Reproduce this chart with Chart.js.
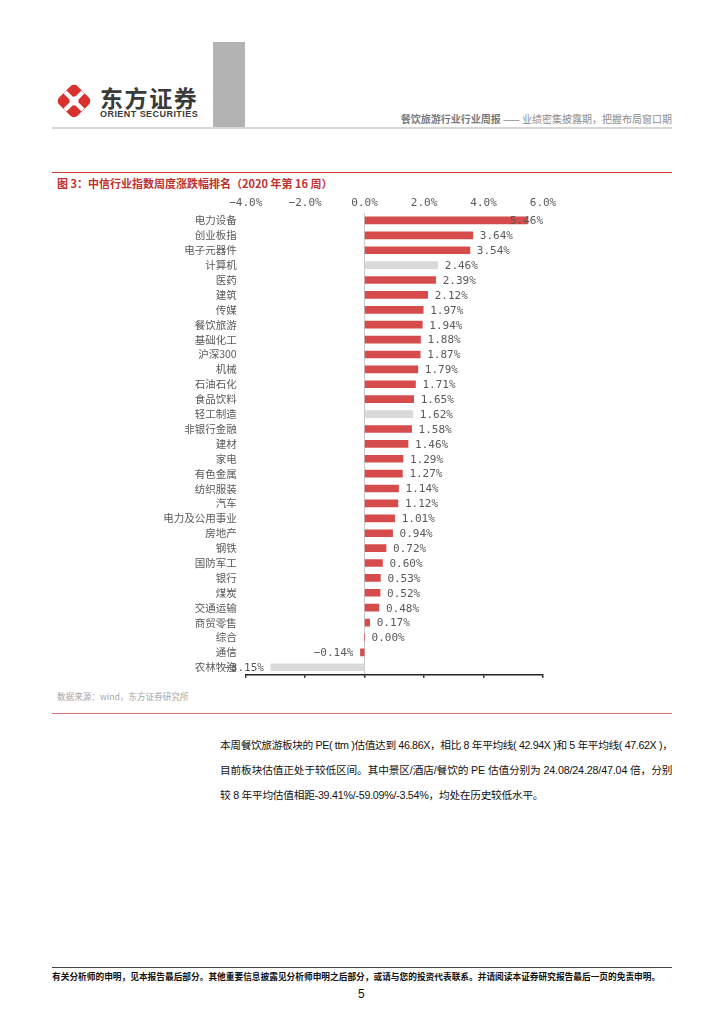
<!DOCTYPE html>
<html>
<head>
<meta charset="utf-8">
<script src="https://cdn.jsdelivr.net/npm/chart.js@4.4.0/dist/chart.umd.min.js"></script>
<style>
  html, body { margin: 0; padding: 0; background: #fff; }
  body { width: 724px; height: 1024px; position: relative; overflow: hidden;
         font-family: "Liberation Sans", "Noto Sans CJK SC", sans-serif; }
  .abs { position: absolute; }
  #grayBlock { left: 213px; top: 42px; width: 32px; height: 86px; background: #b3b3b3; }
  #headLine { left: 52px; top: 127px; width: 620px; height: 2px; background: #d6d6d6; }
  #logoCn { left: 100px; top: 80px; font: bold 23px "Noto Sans CJK SC"; color: #3a3a3a; letter-spacing: 1.6px; }
  #logoEn { left: 100px; top: 109px; font: bold 9px "Liberation Sans"; color: #3a3a3a; letter-spacing: 0.45px; }
  #headText { right: 52px; top: 111px; font: 10px "Noto Sans CJK SC"; color: #8c8c8c; white-space: nowrap; }
  #headText b { color: #7a7a7a; }
  #redTop { left: 52px; top: 172px; width: 620px; height: 1px; background: #d23a3a; }
  #title { left: 57px; top: 175px; font: bold 11px "Noto Sans CJK SC"; color: #c0302c; white-space: nowrap; }
  #chartBox { left: 52px; top: 190px; width: 620px; height: 500px; }
  #source { left: 57px; top: 690px; font: 8.6px "Noto Sans CJK SC"; color: #a6a6a6; white-space: nowrap; }
  #redBottom { left: 52px; top: 713px; width: 620px; height: 1px; background: #e07070; }
  .pline { left: 220px; font: 10.7px "Liberation Sans", "Noto Sans CJK SC"; color: #111; white-space: nowrap; }
  #footLine { left: 52px; top: 967px; width: 620px; height: 1px; background: #444; }
  #footText { left: 52px; top: 970px; font: bold 8.7px "Noto Sans CJK SC"; color: #111; white-space: nowrap; }
  #pageNo { left: 358px; top: 987px; font: 12px "Liberation Sans"; color: #111; }
</style>
</head>
<body>
<svg class="abs" style="left:54px;top:81px" width="40" height="40" viewBox="0 0 40 40">
  <rect x="7" y="7" width="26" height="26" rx="5" fill="#d9322e" transform="rotate(45 20 20)"/>
  <line x1="11" y1="11" x2="29" y2="29" stroke="#fff" stroke-width="4.5"/>
  <line x1="29" y1="11" x2="11" y2="29" stroke="#fff" stroke-width="4.5"/>
  <rect x="16.5" y="16.5" width="7" height="7" fill="#fff" transform="rotate(45 20 20)"/>
</svg>
<div class="abs" id="logoCn">东方证券</div>
<div class="abs" id="logoEn">ORIENT SECURITIES</div>
<div class="abs" id="grayBlock"></div>
<div class="abs" id="headLine"></div>
<div class="abs" id="headText"><b>餐饮旅游行业行业周报</b> —— 业绩密集披露期，把握布局窗口期</div>

<div class="abs" id="redTop"></div>
<div class="abs" id="title">图 3：中信行业指数周度涨跌幅排名（2020 年第 16 周）</div>
<div class="abs" id="chartBox"><canvas id="chart"></canvas></div>
<div class="abs" id="source">数据来源：wind，东方证券研究所</div>
<div class="abs" id="redBottom"></div>

<div class="abs pline" id="p1" style="top:737px">本周餐饮旅游板块的 PE( ttm )估值达到 46.86X，相比 8 年平均线( 42.94X )和 5 年平均线( 47.62X )，</div>
<div class="abs pline" id="p2" style="top:762px">目前板块估值正处于较低区间。其中景区/酒店/餐饮的 PE 估值分别为 24.08/24.28/47.04 倍，分别</div>
<div class="abs pline" id="p3" style="top:787px">较 8 年平均估值相距-39.41%/-59.09%/-3.54%，均处在历史较低水平。</div>

<div class="abs" id="footLine"></div>
<div class="abs" id="footText">有关分析师的申明，见本报告最后部分。其他重要信息披露见分析师申明之后部分，或请与您的投资代表联系。并请阅读本证券研究报告最后一页的免责申明。</div>
<div class="abs" id="pageNo">5</div>

<script>
// 正文前两行撑满到 672px，第三行沿用第一行的字距
(function fitLines() {
  const target = 452;
  const p1 = document.getElementById("p1");
  const p2 = document.getElementById("p2");
  const p3 = document.getElementById("p3");
  const ls1 = (target - p1.scrollWidth) / p1.textContent.length;
  const ls2 = (target - p2.scrollWidth) / p2.textContent.length;
  p1.style.letterSpacing = ls1 + "px";
  p2.style.letterSpacing = ls2 + "px";
  p3.style.letterSpacing = ((ls1 + ls2) / 2) + "px";
})();

// 行业名称（自上而下）
const industries = [
  "电力设备", "创业板指", "电子元器件", "计算机", "医药", "建筑", "传媒", "餐饮旅游",
  "基础化工", "沪深300", "机械", "石油石化", "食品饮料", "轻工制造", "非银行金融", "建材",
  "家电", "有色金属", "纺织服装", "汽车", "电力及公用事业", "房地产", "钢铁", "国防军工",
  "银行", "煤炭", "交通运输", "商贸零售", "综合", "通信", "农林牧渔"
];

// 周涨跌幅 %
const weeklyChange = [
  5.46, 3.64, 3.54, 2.46, 2.39, 2.12, 1.97, 1.94,
  1.88, 1.87, 1.79, 1.71, 1.65, 1.62, 1.58, 1.46,
  1.29, 1.27, 1.14, 1.12, 1.01, 0.94, 0.72, 0.60,
  0.53, 0.52, 0.48, 0.17, 0.00, -0.14, -3.15
];

// 灰色标注的行业
const highlighted = ["计算机", "轻工制造", "农林牧渔"];

const xTickLabels = ["\u22124.0%", "\u22122.0%", "0.0%", "2.0%", "4.0%", "6.0%"];

const RED = "#d64c4c";
const GRAY = "#d9d9d9";
const TEXT = "#595959";

// 数据标签：柱端外侧，右侧超出绘图区时往回收
const valueLabels = {
  id: "valueLabels",
  afterDatasetsDraw(chart) {
    const { ctx, chartArea } = chart;
    const meta = chart.getDatasetMeta(0);
    ctx.save();
    ctx.font = "11px 'DejaVu Sans Mono'";
    ctx.fillStyle = TEXT;
    ctx.textBaseline = "middle";
    ctx.textAlign = "left";
    meta.data.forEach((bar, i) => {
      const v = weeklyChange[i];
      const txt = (v < 0 ? "\u2212" : "") + Math.abs(v).toFixed(2) + "%";
      const w = ctx.measureText(txt).width;
      const x = v < 0 ? bar.x - 7 - w : Math.min(bar.x + 7, chartArea.right - w);
      ctx.fillText(txt, x, bar.y + 1);
    });
    ctx.restore();
  }
};

new Chart(document.getElementById("chart").getContext("2d"), {
  type: "bar",
  data: {
    labels: industries,
    datasets: [{
      data: weeklyChange,
      backgroundColor: industries.map(n => highlighted.includes(n) ? GRAY : RED),
      barThickness: 7,
      xAxisID: "x",
      yAxisID: "y",
    }],
  },
  options: {
    indexAxis: "y",
    responsive: true,
    maintainAspectRatio: false,
    animation: false,
    events: [],
    layout: { padding: { left: 0, right: 129, top: 0, bottom: 0 } },
    plugins: { legend: { display: false }, tooltip: { enabled: false } },
    scales: {
      x: {
        position: "top",
        min: -4, max: 6,
        ticks: {
          stepSize: 2,
          color: TEXT,
          font: { family: "DejaVu Sans Mono", size: 11 },
          padding: 3,
          maxRotation: 0,
          callback: (v, i) => xTickLabels[i],
        },
        grid: {
          drawTicks: false,
          color: c => (c.tick && c.tick.value === 0 ? "#c8c8c8" : "transparent"),
        },
        border: { display: false },
        afterFit: s => { s.height = 23; },
      },
      x2: {
        position: "bottom",
        min: -4, max: 6,
        ticks: { stepSize: 2, display: false },
        grid: { drawOnChartArea: false, drawTicks: true, tickLength: 3, color: "#222", lineWidth: 1.5 },
        border: { color: "#222", width: 1.5 },
        afterFit: s => { s.height = 15; },
      },
      y: {
        ticks: {
          color: TEXT,
          font: { family: "Noto Sans CJK SC", size: 10.5 },
          padding: 9,
          autoSkip: false,
        },
        grid: { display: false, drawTicks: false },
        border: { display: false },
        afterFit: s => { s.width = 193.7; },
      },
    },
  },
  plugins: [valueLabels],
});
</script>
</body>
</html>
